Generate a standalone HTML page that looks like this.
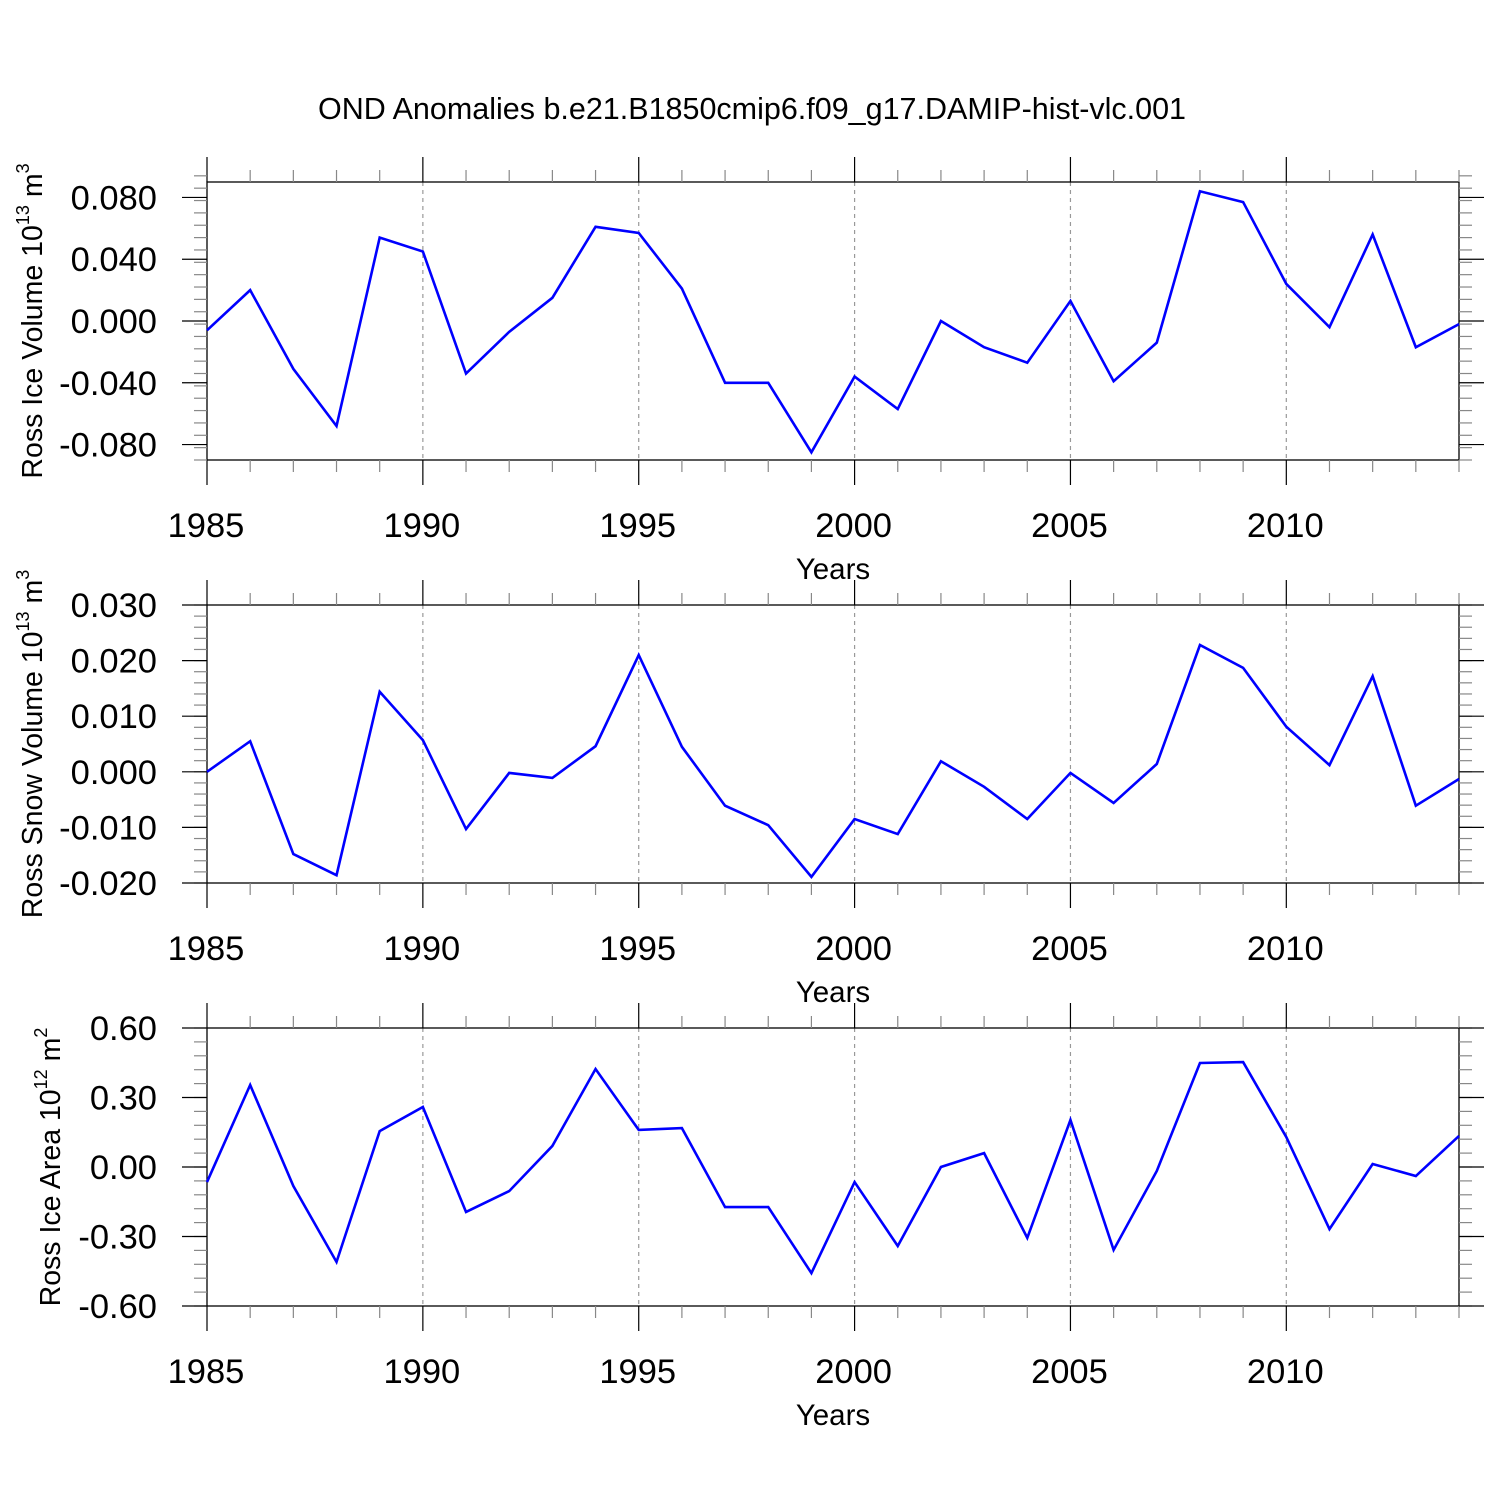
<!DOCTYPE html>
<html><head><meta charset="utf-8"><style>
html,body{margin:0;padding:0;background:#fff;}
svg{display:block;font-family:"Liberation Sans",Arial,sans-serif;}
</style></head><body>
<svg id="chart" width="1500" height="1500" xmlns="http://www.w3.org/2000/svg">
<text x="752" y="119" font-size="30.5" text-anchor="middle">OND Anomalies b.e21.B1850cmip6.f09_g17.DAMIP-hist-vlc.001</text>
</svg>
<script>
const years = [1985,1986,1987,1988,1989,1990,1991,1992,1993,1994,1995,1996,1997,1998,1999,2000,2001,2002,2003,2004,2005,2006,2007,2008,2009,2010,2011,2012,2013,2014];
const iceVolume = [-0.006,0.020,-0.031,-0.068,0.054,0.045,-0.034,-0.007,0.015,0.061,0.057,0.021,-0.040,-0.040,-0.085,-0.036,-0.057,0.000,-0.017,-0.027,0.013,-0.039,-0.014,0.084,0.077,0.024,-0.004,0.056,-0.017,-0.002];
const snowVolume = [0.000,0.0055,-0.0148,-0.0186,0.0144,0.0057,-0.0103,-0.0002,-0.0011,0.0046,0.0210,0.0045,-0.0061,-0.0096,-0.0189,-0.0085,-0.0112,0.0019,-0.0027,-0.0085,-0.0002,-0.0056,0.0014,0.0228,0.0187,0.0081,0.0012,0.0172,-0.0061,-0.0013];
const iceArea = [-0.065,0.354,-0.082,-0.41,0.155,0.259,-0.194,-0.104,0.091,0.423,0.160,0.168,-0.173,-0.173,-0.458,-0.065,-0.341,0.0,0.060,-0.306,0.203,-0.358,-0.017,0.449,0.453,0.129,-0.268,0.013,-0.039,0.134];
const xTicks = [1985,1990,1995,2000,2005,2010];
const yTicks1 = [0.08,0.04,0,-0.04,-0.08];
const yTicks2 = [0.03,0.02,0.01,0,-0.01,-0.02];
const yTicks3 = [0.6,0.3,0,-0.3,-0.6];

const NS="http://www.w3.org/2000/svg";
const svg=document.getElementById('chart');
function mk(tag,attrs,parent){const e=document.createElementNS(NS,tag);for(const k in attrs)e.setAttribute(k,attrs[k]);(parent||svg).appendChild(e);return e;}
const X0=207,X1=1459;
function xs(v){return X0+(v-1985)/(2014-1985)*(X1-X0);}

function panel(top,bot,ymin,ymax,ticks,minorStep,dec,vals,label,sup,unitsup,name,labelX){
  const g=mk('g',{});
  
  
  const ys=v=>bot-(v-ymin)/(ymax-ymin)*(bot-top);
  xTicks.forEach(t=>{if(t>1985){const l=mk('line',{x1:xs(t),x2:xs(t),y1:top,y2:bot,stroke:'#999','stroke-width':1.2,'stroke-dasharray':'4,4'},g);
    }});
  mk('rect',{x:X0,y:top,width:X1-X0,height:bot-top,fill:'none',stroke:'#000','stroke-width':1.3},g);
  for(let y=1985;y<=2014;y++){
    const maj=xTicks.includes(y);const L=maj?25:12;
    mk('line',{x1:xs(y),x2:xs(y),y1:top,y2:top-L,stroke:maj?'#000':'#888','stroke-width':1.2},g);
    mk('line',{x1:xs(y),x2:xs(y),y1:bot,y2:bot+L,stroke:maj?'#000':'#888','stroke-width':1.2},g);
  }
  xTicks.forEach(t=>{const tx=mk('text',{x:xs(t)-1,y:bot+77,'font-size':34.5,'text-anchor':'middle'},g);tx.textContent=t;
    });
  const xt=mk('text',{x:833,y:bot+119,'font-size':29.5,'text-anchor':'middle'},g);xt.textContent='Years';
  
  const n=Math.round((ymax-ymin)/minorStep);
  for(let i=0;i<=n;i++){const v=ymin+i*minorStep;const y=ys(v);
    mk('line',{x1:X0,x2:X0-13,y1:y,y2:y,stroke:'#888','stroke-width':1.2},g);
    mk('line',{x1:X1,x2:X1+13,y1:y,y2:y,stroke:'#888','stroke-width':1.2},g);}
  ticks.forEach(t=>{const y=ys(t);
    mk('line',{x1:X0,x2:X0-25,y1:y,y2:y,stroke:'#000','stroke-width':1.2},g);
    mk('line',{x1:X1,x2:X1+25,y1:y,y2:y,stroke:'#000','stroke-width':1.2},g);
    const tx=mk('text',{x:157,y:y+12,'font-size':34.5,'text-anchor':'end'},g);tx.textContent=t.toFixed(dec);
    });
  const cy=(top+bot)/2;
  const yl=mk('text',{x:0,y:0,'font-size':28.5,'text-anchor':'middle',transform:`translate(${labelX},${cy}) rotate(-90)`},g);
  
  yl.appendChild(document.createTextNode(label+' 10'));
  const s=mk('tspan',{dy:-13,'font-size':18},yl);s.textContent=sup;
  const m=mk('tspan',{dy:13},yl);m.textContent=' m';
  const s2=mk('tspan',{dy:-13,'font-size':18},yl);s2.textContent=unitsup;
  const pts=vals.map((v,i)=>xs(years[i])+','+ys(v)).join(' ');
  const pl=mk('polyline',{points:pts,fill:'none',stroke:'#0000ff','stroke-width':2.6,'stroke-linejoin':'miter'},g);
  
}
panel(182,460,-0.09,0.09,yTicks1,0.008,3,iceVolume,'Ross Ice Volume','13','3','ice-volume',42);
panel(605,883,-0.02,0.03,yTicks2,0.002,3,snowVolume,'Ross Snow Volume','13','3','snow-volume',42);
panel(1028,1306,-0.6,0.6,yTicks3,0.06,2,iceArea,'Ross Ice Area','12','2','ice-area',60);
</script>
</body></html>
